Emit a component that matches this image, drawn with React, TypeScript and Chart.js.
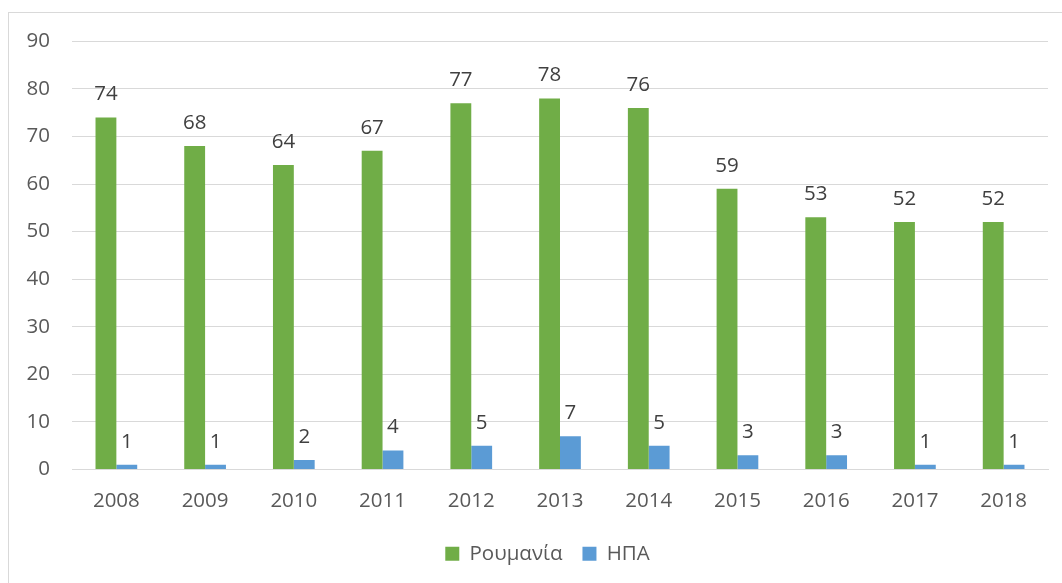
import React, { useEffect, useRef } from "react";
import { Chart, registerables } from "chart.js";

Chart.register(...registerables);

const categories = ["2008", "2009", "2010", "2011", "2012", "2013", "2014", "2015", "2016", "2017", "2018"];
const romania = [74, 68, 64, 67, 77, 78, 76, 59, 53, 52, 52];
const usa = [1, 1, 2, 4, 5, 7, 5, 3, 3, 1, 1];
const seriesNames = ["Ρουμανία", "ΗΠΑ"];
const yTicks = { min: 0, max: 90, step: 10 };

const FONT = "'Open Sans', 'Noto Sans', sans-serif";

const dataLabels = {
  id: "dataLabels",
  afterDatasetsDraw(chart: any) {
    const ctx = chart.ctx;
    ctx.save();
    ctx.font = `20.5px ${FONT}`;
    ctx.fillStyle = "#404040";
    ctx.textAlign = "center";
    ctx.textBaseline = "alphabetic";
    chart.data.datasets.forEach((ds: any, i: number) => {
      const meta = chart.getDatasetMeta(i);
      meta.data.forEach((bar: any, j: number) => {
        ctx.fillText(String(ds.data[j]), bar.x, bar.y - 17);
      });
    });
    ctx.restore();
  },
};

// shift legend box so it is centred like the reference
const legendShift = {
  id: "legendShift",
  afterLayout(chart: any) {
    if (chart.legend) chart.legend.left += 38;
  },
};

export default function App() {
  const ref = useRef<HTMLCanvasElement>(null);
  useEffect(() => {
    if (!ref.current) return;
    const chart = new Chart(ref.current, {
      type: "bar",
      data: {
        labels: categories,
        datasets: [
          { label: seriesNames[0], data: romania, backgroundColor: "#70AD47", categoryPercentage: 0.47, barPercentage: 1 },
          { label: seriesNames[1], data: usa, backgroundColor: "#5B9BD5", categoryPercentage: 0.47, barPercentage: 1 },
        ],
      },
      options: {
        animation: false,
        responsive: true,
        maintainAspectRatio: false,
        layout: { padding: { top: 0, right: 14, left: 0, bottom: 9 } },
        scales: {
          x: {
            grid: { display: false, drawTicks: false },
            border: { display: true, color: "#D9D9D9" },
            ticks: { color: "#595959", font: { family: FONT, size: 20.5 }, padding: 19 },
            afterFit: (s: any) => { s.height = 54; },
          },
          y: {
            min: yTicks.min,
            max: yTicks.max,
            ticks: { stepSize: yTicks.step, color: "#595959", font: { family: FONT, size: 20.5 }, padding: 22 },
            grid: { color: "#D9D9D9", drawTicks: false },
            border: { display: false },
            afterFit: (s: any) => { s.width = 63; },
          },
        },
        plugins: {
          legend: {
            position: "bottom",
            labels: { boxWidth: 14, boxHeight: 14, color: "#595959", font: { family: FONT, size: 20.5 }, padding: 20 },
          },
          tooltip: { enabled: false },
        },
      },
      plugins: [dataLabels, legendShift],
    });
    return () => chart.destroy();
  }, []);
  return (
    <div
      style={{
        position: "fixed",
        left: 8,
        top: 12,
        width: 1054,
        height: 571,
        borderTop: "1px solid #D9D9D9",
        borderLeft: "1px solid #D9D9D9",
        background: "#fff",
        overflow: "hidden",
      }}
    >
      <div style={{ position: "absolute", left: 0, top: -6, width: 1053, height: 576 }}>
        <canvas ref={ref} />
      </div>
    </div>
  );
}
